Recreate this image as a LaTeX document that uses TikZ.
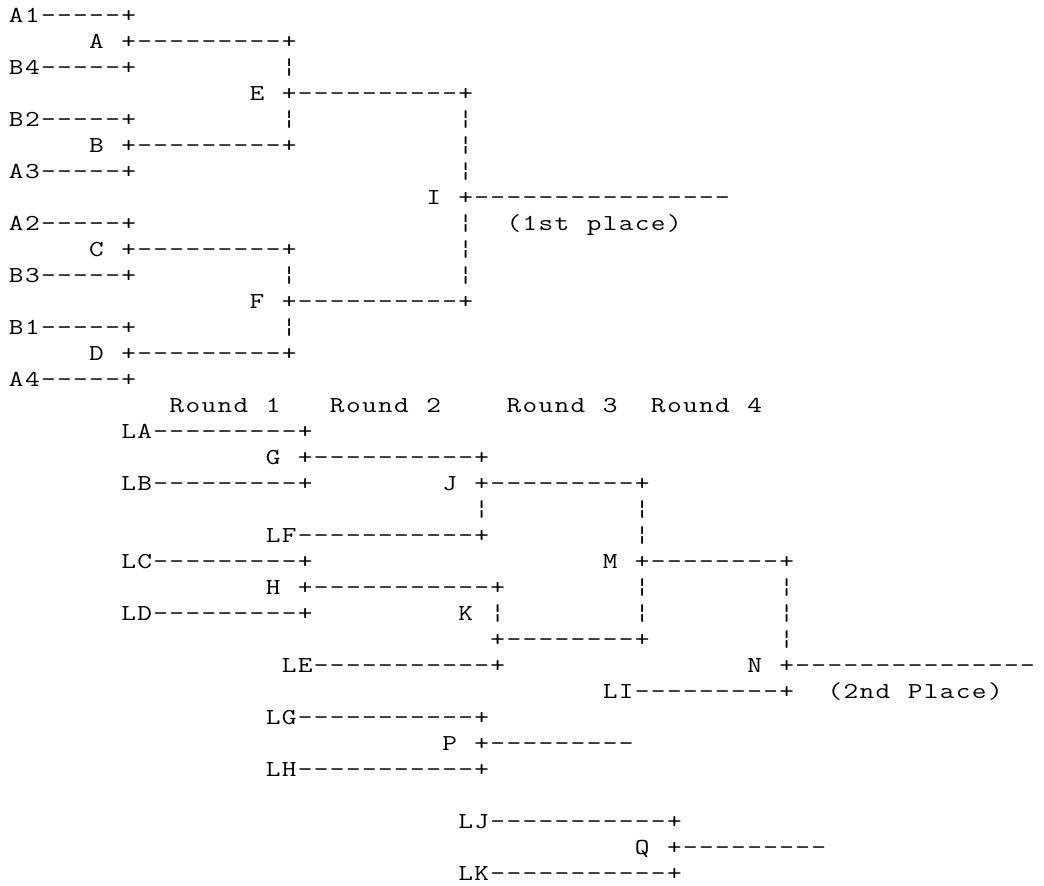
\documentclass[tikz,border=0pt]{standalone}
\usepackage{fontspec}
\usepackage{graphicx}
\newcount\gcol
\newcommand\gridrow{}
\let\gridend\relax
\newcommand\gridtext[3]{\def\gridrow{#1}\gcol=#2\relax\gridloop#3\gridend}
\def\gridloop#1{\ifx#1\gridend\expandafter\gridstop\else\expandafter\gridstep\fi#1}
\def\gridstop#1{}
\def\gridstep#1{\ifx#1_\expandafter\gridskip\else\expandafter\gridput\fi{#1}}
\def\gridskip#1{\advance\gcol by 1\relax\gridloop}
\def\gridput#1{\node[ch,name=c\gridrow-\the\gcol] at ({16.3+16.05*\the\gcol},{22.9+26*\gridrow}) {\scalebox{1.25}[1]{#1}};\advance\gcol by 1\relax\gridloop}
\begin{document}
\begin{tikzpicture}[x=1pt,y=-1pt,
  ch/.style={anchor=base,inner sep=0pt,outer sep=0pt,text=black,
    font=\ttfamily\fontsize{22.8}{26}\selectfont}]
\fill[white] (0,0) rectangle (1044,886);
\useasboundingbox (0,0) rectangle (1044,886);
% winners bracket
\gridtext{0}{0}{A1-----+}
\gridtext{1}{5}{A_+---------+}
\gridtext{2}{0}{B4-----+}\gridtext{2}{17}{¦}
\gridtext{3}{15}{E_+----------+}
\gridtext{4}{0}{B2-----+}\gridtext{4}{17}{¦}\gridtext{4}{28}{¦}
\gridtext{5}{5}{B_+---------+}\gridtext{5}{28}{¦}
\gridtext{6}{0}{A3-----+}\gridtext{6}{28}{¦}
\gridtext{7}{26}{I_+----------------}
\gridtext{8}{0}{A2-----+}\gridtext{8}{28}{¦}\gridtext{8}{31}{(1st_place)}
\gridtext{9}{5}{C_+---------+}\gridtext{9}{28}{¦}
\gridtext{10}{0}{B3-----+}\gridtext{10}{17}{¦}\gridtext{10}{28}{¦}
\gridtext{11}{15}{F_+----------+}
\gridtext{12}{0}{B1-----+}\gridtext{12}{17}{¦}
\gridtext{13}{5}{D_+---------+}
\gridtext{14}{0}{A4-----+}
% round labels
\gridtext{15}{10}{Round_1}\gridtext{15}{20}{Round_2}\gridtext{15}{31}{Round_3}\gridtext{15}{40}{Round_4}
% losers bracket
\gridtext{16}{7}{LA---------+}
\gridtext{17}{16}{G_+----------+}
\gridtext{18}{7}{LB---------+}\gridtext{18}{27}{J_+---------+}
\gridtext{19}{29}{¦}\gridtext{19}{39}{¦}
\gridtext{20}{16}{LF-----------+}\gridtext{20}{39}{¦}
\gridtext{21}{7}{LC---------+}\gridtext{21}{37}{M_+--------+}
\gridtext{22}{16}{H_+-----------+}\gridtext{22}{39}{¦}\gridtext{22}{48}{¦}
\gridtext{23}{7}{LD---------+}\gridtext{23}{28}{K_¦}\gridtext{23}{39}{¦}\gridtext{23}{48}{¦}
\gridtext{24}{30}{+--------+}\gridtext{24}{48}{¦}
\gridtext{25}{17}{LE-----------+}\gridtext{25}{46}{N_+---------------}
\gridtext{26}{37}{LI---------+}\gridtext{26}{51}{(2nd_Place)}
\gridtext{27}{16}{LG-----------+}
\gridtext{28}{27}{P_+---------}
\gridtext{29}{16}{LH-----------+}
\gridtext{31}{28}{LJ-----------+}
\gridtext{32}{39}{Q_+---------}
\gridtext{33}{28}{LK-----------+}
\end{tikzpicture}
\end{document}
